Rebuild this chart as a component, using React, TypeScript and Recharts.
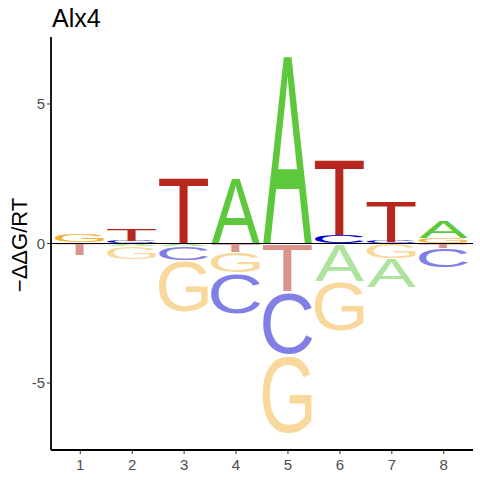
import React from "react"
import { BarChart, Bar, XAxis, YAxis, ReferenceLine } from "recharts"

// energy logo for Alx4: -ddG/RT of each base at each position
const positions = [1, 2, 3, 4, 5, 6, 7, 8]
const A = [0.05, -0.1, -0.1, 2.45, 6.95, -1.33, -1.05, 0.6]
const C = [0, 0.1, -0.5, -1.45, -2.25, 0.3, 0.07, -0.7]
const G = [0.3, -0.45, -1.85, -0.75, -2.85, -1.8, -0.52, 0.18]
const T = [-0.4, 0.42, 2.42, -0.3, -1.7, 2.75, 1.45, -0.15]
const yTicks = [-5, 0, 5]

const bases: Record<string, number[]> = { A, C, G, T }
const colors: Record<string, string> = { A: "#5DC83B", C: "#0000CC", G: "#F3B23A", T: "#B8271E" }

// ink box of each capital in Liberation Sans, in em: xMin, xMax, yMin, yMax
const metrics: Record<string, number[]> = {
  A: [-0.0015, 0.668, 0, 0.716],
  C: [0.05, 0.683, -0.012, 0.728],
  G: [0.053, 0.711, -0.012, 0.728],
  T: [0.023, 0.591, 0, 0.716],
}

const slots = [0, 1, 2, 3]

// smallest letters sit next to zero, biggest furthest out
const rows = positions.map((p, i) => {
  const row: any = { pos: p }
  const vals = Object.keys(bases)
    .map((b) => ({ b, v: bases[b][i] }))
    .filter((d) => d.v !== 0)
  const up = vals.filter((d) => d.v > 0).sort((a, b) => a.v - b.v)
  const down = vals.filter((d) => d.v < 0).sort((a, b) => b.v - a.v)
  up.forEach((d, k) => {
    row["p" + k] = d.v
    row["p" + k + "b"] = d.b
  })
  down.forEach((d, k) => {
    row["n" + k] = d.v
    row["n" + k + "b"] = d.b
  })
  return row
})

function Letter(props: any) {
  const { x, y, width, height, payload, slot } = props
  const base = payload && payload[slot + "b"]
  if (!base || !height || !width) return null
  const top = Math.min(y, y + height)
  const h = Math.abs(height)
  const [x0, x1, y0, y1] = metrics[base]
  const F = 100
  const sx = width / ((x1 - x0) * F)
  const sy = h / ((y1 - y0) * F)
  return (
    <text
      transform={`translate(${x},${top}) scale(${sx},${sy}) translate(${-x0 * F},${y1 * F})`}
      fontSize={F}
      fontFamily="Liberation Sans, Arial, sans-serif"
      fill={colors[base]}
      fillOpacity={slot[0] === "n" ? 0.5 : 1}
    >
      {base}
    </text>
  )
}

const tickStyle = { fill: "#4D4D4D", fontSize: 15, fontFamily: "Liberation Sans, Arial, sans-serif" }

export default function App() {
  return (
    <div style={{ position: "absolute", left: 0, top: 0, width: 480, height: 480, background: "#fff" }}>
      <BarChart
        width={480}
        height={480}
        data={rows}
        stackOffset="sign"
        margin={{ top: 37, right: 7, bottom: 0, left: 0 }}
      >
        <XAxis
          dataKey="pos"
          height={30}
          padding={{ left: 3.3, right: 3.3 }}
          axisLine={{ stroke: "#000", strokeWidth: 1.8 }}
          tickLine={{ stroke: "#333" }}
          tickSize={4}
          tickMargin={5}
          tick={tickStyle}
        />
        <YAxis
          width={51}
          type="number"
          domain={[-7.4, 7.4]}
          ticks={yTicks}
          allowDataOverflow
          axisLine={{ stroke: "#000", strokeWidth: 1.8 }}
          tickLine={{ stroke: "#333" }}
          tickSize={4}
          tickMargin={2}
          tick={tickStyle}
        />
        {slots.map((k) => (
          <Bar
            key={"p" + k}
            dataKey={"p" + k}
            stackId="logo"
            barSize={49}
            isAnimationActive={false}
            shape={(p: any) => <Letter {...p} slot={"p" + k} />}
          />
        ))}
        {slots.map((k) => (
          <Bar
            key={"n" + k}
            dataKey={"n" + k}
            stackId="logo"
            barSize={49}
            isAnimationActive={false}
            shape={(p: any) => <Letter {...p} slot={"n" + k} />}
          />
        ))}
        <ReferenceLine y={0} stroke="#000" strokeWidth={1.2} />
      </BarChart>
      <svg width={480} height={480} style={{ position: "absolute", left: 0, top: 0, pointerEvents: "none" }}>
        <text x={52} y={27} fontSize={25} fontFamily="Liberation Sans, Arial, sans-serif" fill="#000">
          Alx4
        </text>
        <text
          transform="translate(27,245) rotate(-90)"
          textAnchor="middle"
          fontSize={22}
          fontFamily="Liberation Sans, Arial, sans-serif"
          fill="#000"
        >
          −ΔΔG/RT
        </text>
      </svg>
    </div>
  )
}
